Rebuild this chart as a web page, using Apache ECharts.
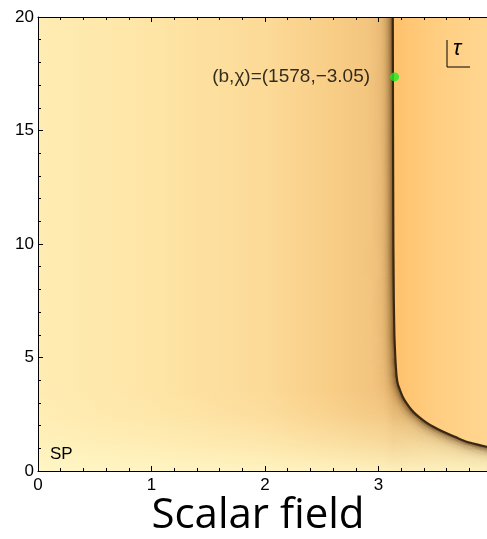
<!DOCTYPE html>
<html><head><meta charset="utf-8">
<script src="https://cdn.jsdelivr.net/npm/echarts@6/dist/echarts.min.js"></script>
<style>html,body{margin:0;padding:0;background:#fff;overflow:hidden}#c{width:487px;height:539px}</style>
</head><body><div id="c"></div>
<script>
// ---- data ----
const xTickLabels = ['0', '1', '2', '3'];
const yTickLabels = ['0', '5', '10', '15', '20'];
// ridge (dark line) of the scalar field
const curveX = [3.126, 3.128, 3.131, 3.135, 3.140, 3.148, 3.160, 3.172, 3.189, 3.215, 3.248, 3.290, 3.337, 3.395, 3.454, 3.525, 3.601, 3.690, 3.777, 3.865, 3.953, 4.000];
const curveY = [20.0, 15.0, 10.0, 7.5, 6.0, 5.0, 4.15, 3.80, 3.57, 3.25, 2.98, 2.70, 2.46, 2.23, 2.03, 1.84, 1.66, 1.47, 1.29, 1.17, 1.07, 1.03];
const pointX = [3.1416];
const pointY = [17.36];
const pointLabel = ['(b,χ)=(1578,−3.05)'];
const cornerLabel = 'SP';
const legendLabel = 'τ';
const titleText = 'Scalar field';

const FONT = "'Liberation Sans', Arial, sans-serif";
const XMAX = 3.956;
const chart = echarts.init(document.getElementById('c'), null, {renderer: 'canvas'});

function offsetPts(pts, k) {
  return pts.map((p, i) => {
    const a = pts[Math.max(0, i - 1)], b = pts[Math.min(pts.length - 1, i + 1)];
    let dx = b[0] - a[0], dy = b[1] - a[1];
    const L = Math.hypot(dx, dy) || 1; dx /= L; dy /= L;
    return [p[0] - dy * k, p[1] + dx * k];
  });
}

function renderField(params, api) {
  const cs = params.coordSys;
  const pts = curveX.map((x, i) => api.coord([x, curveY[i]]));
  const p00 = api.coord([0, 0]), p020 = api.coord([0, 20]);
  const pR0 = api.coord([4.2, 0]), pR20 = api.coord([4.2, 20]);
  const X = v => api.coord([v, 0])[0];
  const Y = v => api.coord([0, v])[1];
  const last = pts[pts.length - 1];
  const leftPoly = [p00, p020].concat(pts, [[last[0] + 20, last[1]], pR0]);
  const rightPoly = pts.concat([[last[0] + 20, last[1]], pR20]);
  const x0 = X(0), x4 = X(4);
  const frac = v => (X(v) - x0) / (x4 - x0);
  const children = [];
  children.push({
    type: 'polygon', shape: {points: leftPoly},
    style: {fill: {type: 'linear', x: x0, y: 0, x2: x4, y2: 0, global: true, colorStops: [
      {offset: 0, color: '#FFECB2'},
      {offset: frac(1), color: '#FEE5A6'},
      {offset: frac(2), color: '#FCDA98'},
      {offset: frac(2.6), color: '#F8CD86'},
      {offset: frac(3.05), color: '#F1C27B'},
      {offset: frac(3.13), color: '#EAB972'},
      {offset: 1, color: '#F2CC8C'}
    ]}, stroke: null}
  });
  children.push({
    type: 'polygon', shape: {points: rightPoly},
    style: {fill: {type: 'linear', x: X(3.13), y: 0, x2: x4, y2: 0, global: true, colorStops: [
      {offset: 0, color: '#FFC16C'},
      {offset: 0.4, color: '#FFCD80'},
      {offset: 1, color: '#FFD792'}
    ]}, stroke: null}
  });
  // lighter band near the bottom
  children.push({
    type: 'polygon', shape: {points: leftPoly},
    style: {fill: {type: 'linear', x: 0, y: Y(0), x2: 0, y2: Y(3.6), global: true, colorStops: [
      {offset: 0, color: 'rgba(255,248,200,0.85)'},
      {offset: 0.35, color: 'rgba(255,246,196,0.45)'},
      {offset: 0.7, color: 'rgba(255,246,196,0.12)'},
      {offset: 1, color: 'rgba(255,246,196,0)'}
    ]}, stroke: null}
  });
  // dark shading on the outer side of the ridge
  for (let k = 30; k >= 1; k--) {
    const a = 0.9 * Math.exp(-k / 4.0) + 0.03 * Math.exp(-k / 12);
    children.push({
      type: 'polyline', shape: {points: offsetPts(pts, k), smooth: 0.15},
      style: {stroke: 'rgba(95,60,22,' + a.toFixed(3) + ')', lineWidth: 1.2, fill: null}
    });
  }
  children.push({
    type: 'polyline', shape: {points: pts, smooth: 0.15},
    style: {stroke: '#3a2814', lineWidth: 2.2, fill: null}
  });
  return {
    type: 'group',
    clipPath: {type: 'rect', shape: {x: cs.x, y: cs.y, width: cs.width, height: cs.height}},
    children: children
  };
}

const axisCommon = {
  type: 'value',
  axisLine: {show: true, lineStyle: {color: '#000', width: 1}},
  splitLine: {show: false},
  z: 10
};

chart.setOption({
  animation: false,
  backgroundColor: '#fff',
  grid: {left: 38, top: 17, right: 0, bottom: 68, containLabel: false, outerBoundsMode: 'none'},
  xAxis: [
    Object.assign({}, axisCommon, {
      position: 'bottom', min: 0, max: XMAX, interval: 1,
      axisTick: {show: true, inside: true, length: 5, lineStyle: {color: '#000'}},
      minorTick: {show: true, splitNumber: 5, length: 3, lineStyle: {color: '#000'}},
      axisLabel: {show: true, margin: 6, color: '#000', fontSize: 17, fontFamily: FONT,
        formatter: v => { const i = Math.round(v); return i < xTickLabels.length ? xTickLabels[i] : ''; }}
    }),
    Object.assign({}, axisCommon, {
      position: 'top', min: 0, max: XMAX, interval: 1,
      axisTick: {show: true, inside: true, length: 5, lineStyle: {color: '#000'}},
      minorTick: {show: true, splitNumber: 5, length: 3, lineStyle: {color: '#000'}},
      axisLabel: {show: false}
    })
  ],
  yAxis: [
    Object.assign({}, axisCommon, {
      position: 'left', min: 0, max: 20, interval: 5,
      axisTick: {show: true, inside: true, length: 5, lineStyle: {color: '#000'}},
      minorTick: {show: true, splitNumber: 5, length: 3, lineStyle: {color: '#000'}},
      axisLabel: {show: true, margin: 4, color: '#000', fontSize: 17, fontFamily: FONT,
        formatter: v => yTickLabels[Math.round(v / 5)] || ''}
    })
  ],
  series: [
    {
      type: 'custom', xAxisIndex: 0, yAxisIndex: 0,
      data: [[0, 0]], encode: {x: 0, y: 1},
      renderItem: renderField, silent: true, z: 1
    },
    {
      type: 'scatter', xAxisIndex: 0, yAxisIndex: 0, z: 5,
      data: pointX.map((x, i) => ({value: [x, pointY[i]], label: {formatter: pointLabel[i]}})),
      symbol: 'circle', symbolSize: 9,
      itemStyle: {color: '#1EEE1E'},
      label: {show: true, position: 'left', distance: 20, color: '#000', fontSize: 19, fontFamily: FONT}
    }
  ],
  graphic: [
    {type: 'text', left: 50, top: 446, z: 20,
      style: {text: cornerLabel, fill: '#000', font: '17px ' + FONT}},
    {type: 'polyline', z: 20, shape: {points: [[447, 40], [447, 67], [470, 67]]},
      style: {stroke: '#000', lineWidth: 1, fill: null}},
    {type: 'text', left: 453, top: 38, z: 20,
      style: {text: legendLabel, fill: '#000', font: 'italic 22px ' + FONT}},
    {type: 'text', z: 20, x: 258, y: 537,
      style: {text: titleText, fill: '#000', font: "42px 'Open Sans', sans-serif", textAlign: 'center', textVerticalAlign: 'bottom'}}
  ]
});
</script>
</body></html>
